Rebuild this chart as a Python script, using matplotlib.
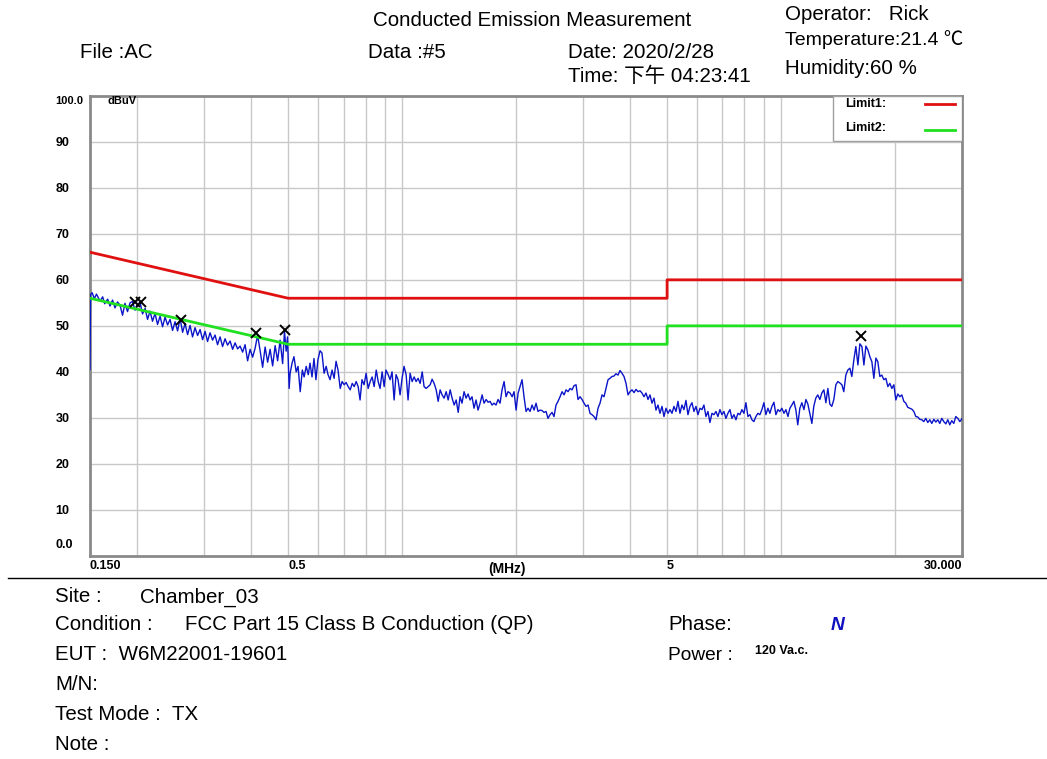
import matplotlib
matplotlib.use('Agg')
import matplotlib.pyplot as plt
from matplotlib.lines import Line2D

plt.rcParams['font.family'] = ['Liberation Sans', 'Noto Sans CJK SC', 'DejaVu Sans']

# --- datos de la medicion (MHz, dBuV) ---
freq = [
    0.150, 0.1505, 0.152, 0.154, 0.156,
    0.1594, 0.162, 0.164, 0.167,
    0.1694, 0.172, 0.1746, 0.1773,
    0.180, 0.1828, 0.1855, 0.1884,
    0.1913, 0.1942, 0.1972, 0.2002,
    0.2033, 0.2064, 0.2096, 0.2128,
    0.216, 0.2193, 0.2227, 0.2261,
    0.2296, 0.2331, 0.2367, 0.2403,
    0.244, 0.2477, 0.2515, 0.2554,
    0.2593, 0.2633, 0.2673, 0.2714,
    0.2755, 0.2797, 0.284, 0.2884,
    0.2928, 0.2973, 0.3018, 0.3064,
    0.3111, 0.3159, 0.3207, 0.3256,
    0.3306, 0.3357, 0.3408, 0.346,
    0.3514, 0.3568, 0.3622, 0.3678,
    0.3734, 0.3791, 0.3849, 0.3908,
    0.3968, 0.4029, 0.409, 0.4153,
    0.4217, 0.4282, 0.4347, 0.4414,
    0.4481, 0.455, 0.462, 0.469,
    0.4762, 0.4835, 0.489, 0.494, 0.498, 0.503,
    0.506, 0.512, 0.518, 0.525, 0.531,
    0.538, 0.545, 0.551, 0.558, 0.565,
    0.571, 0.578, 0.585, 0.592, 0.599,
    0.607, 0.614, 0.622, 0.630, 0.637,
    0.645, 0.653, 0.661, 0.669, 0.677,
    0.686, 0.694, 0.703, 0.711, 0.720,
    0.729, 0.738, 0.747, 0.756, 0.765,
    0.774, 0.783, 0.793, 0.803, 0.813,
    0.823, 0.833, 0.843, 0.854, 0.864,
    0.874, 0.885, 0.896, 0.906, 0.918,
    0.929, 0.940, 0.952, 0.963, 0.975,
    0.987, 0.999, 1.011, 1.024, 1.036,
    1.049, 1.062, 1.075, 1.088, 1.101,
    1.115, 1.129, 1.142, 1.156, 1.171,
    1.185, 1.199, 1.214, 1.229, 1.244,
    1.259, 1.274, 1.290, 1.306, 1.322,
    1.338, 1.354, 1.371, 1.388, 1.405,
    1.421, 1.438, 1.456, 1.474, 1.492,
    1.510, 1.528, 1.547, 1.566, 1.585,
    1.605, 1.625, 1.644, 1.665, 1.685,
    1.705, 1.726, 1.747, 1.768, 1.790,
    1.812, 1.834, 1.857, 1.879, 1.902,
    1.926, 1.950, 1.973, 1.997, 2.022,
    2.046, 2.071, 2.096, 2.122, 2.148,
    2.174, 2.201, 2.228, 2.255, 2.282,
    2.310, 2.338, 2.367, 2.396, 2.425,
    2.455, 2.485, 2.515, 2.546, 2.577,
    2.609, 2.641, 2.673, 2.706, 2.739,
    2.772, 2.806, 2.840, 2.875, 2.910,
    2.946, 2.982, 3.018, 3.055, 3.093,
    3.130, 3.168, 3.207, 3.246, 3.286,
    3.326, 3.367, 3.408, 3.449, 3.492,
    3.534, 3.577, 3.621, 3.665, 3.710,
    3.756, 3.802, 3.848, 3.895, 3.943,
    3.991, 4.040, 4.089, 4.139, 4.190,
    4.241, 4.293, 4.345, 4.398, 4.452,
    4.506, 4.561, 4.617, 4.673, 4.730,
    4.788, 4.847, 4.906, 4.966, 5.026,
    5.088, 5.150, 5.213, 5.277, 5.341,
    5.406, 5.472, 5.539, 5.607, 5.675,
    5.745, 5.815, 5.886, 5.958, 6.031,
    6.104, 6.179, 6.254, 6.331, 6.408,
    6.486, 6.566, 6.646, 6.727, 6.809,
    6.892, 6.976, 7.062, 7.148, 7.235,
    7.324, 7.413, 7.504, 7.596, 7.689,
    7.782, 7.877, 7.974, 8.071, 8.170,
    8.269, 8.370, 8.472, 8.576, 8.681,
    8.787, 8.894, 9.003, 9.113, 9.225,
    9.337, 9.451, 9.567, 9.684, 9.802,
    9.921, 10.04, 10.17, 10.29, 10.42,
    10.54, 10.67, 10.80, 10.93, 11.06,
    11.20, 11.34, 11.48, 11.62, 11.76,
    11.90, 12.05, 12.19, 12.34, 12.49,
    12.65, 12.80, 12.96, 13.12, 13.28,
    13.44, 13.60, 13.77, 13.94, 14.11,
    14.28, 14.46, 14.63, 14.81, 14.99,
    15.18, 15.36, 15.55, 15.74, 15.94,
    16.13, 16.33, 16.53, 16.73, 16.93,
    17.14, 17.35, 17.56, 17.78, 17.99,
    18.21, 18.43, 18.66, 18.89, 19.12,
    19.35, 19.59, 19.83, 20.07, 20.31,
    20.56, 20.81, 21.07, 21.32, 21.58,
    21.85, 22.12, 22.39, 22.66, 22.94,
    23.21, 23.50, 23.78, 24.07, 24.37,
    24.67, 24.97, 25.28, 25.59, 25.90,
    26.21, 26.53, 26.86, 27.19, 27.52,
    27.85, 28.19, 28.54, 28.89, 29.24,
    29.60, 30.00,
]

nivel = [
    40.5, 56.8, 57.2, 55.9, 56.9,
    55.4, 56.3, 54.8, 55.8,
    54.3, 55.6, 53.9, 55.2,
    54.5, 52.3, 54.9, 53.1,
    55.0, 55.3, 53.4, 54.6,
    55.1, 52.6, 53.8, 51.4,
    53.2, 51.0, 52.7, 50.3,
    52.1, 49.8, 51.9, 50.2,
    51.4, 49.0, 50.9, 48.9,
    51.6, 48.6, 50.5, 48.1,
    50.1, 47.6, 49.6, 47.9,
    49.2, 47.0, 48.8, 46.6,
    48.5, 46.9, 48.0, 45.9,
    47.6, 45.5, 47.2, 45.8,
    46.7, 44.9, 46.3, 45.0,
    45.6, 44.3, 45.9, 42.4,
    44.9, 43.2, 45.1, 48.0,
    44.6, 41.0, 45.4, 42.1,
    44.9, 41.3, 45.7, 42.4,
    46.9, 41.8, 48.8, 44.5, 47.6, 36.4,
    39.7, 41.9, 43.3, 40.0, 41.2,
    35.7, 40.4, 38.9, 41.2, 39.4,
    41.9, 38.9, 42.9, 38.3, 42.6,
    44.6, 44.1, 39.7, 41.2, 39.4,
    38.3, 40.4, 38.6, 42.3, 40.4,
    36.4, 37.9, 37.2, 37.7, 36.8,
    36.1, 37.5, 36.8, 37.9, 36.8,
    33.9, 38.3, 37.2, 39.7, 36.4,
    37.9, 38.9, 36.8, 40.4, 37.9,
    36.4, 40.0, 36.8, 40.4, 39.4,
    38.3, 40.0, 33.9, 39.4, 38.3,
    35.0, 38.6, 41.2, 39.4, 33.9,
    39.7, 37.9, 38.9, 37.9, 38.6,
    37.5, 40.0, 36.8, 36.4, 36.8,
    37.2, 38.4, 37.5, 36.1, 33.6,
    36.1, 35.0, 34.3, 35.7, 33.9,
    36.1, 34.3, 32.8, 33.9, 31.2,
    34.6, 33.2, 35.7, 34.3, 35.2,
    33.9, 34.6, 32.1, 33.9, 31.7,
    33.2, 35.0, 33.2, 34.0, 33.4,
    33.6, 32.8, 33.2, 32.8, 34.0,
    33.2, 36.1, 37.9, 34.6, 35.7,
    35.4, 34.6, 35.7, 31.7, 35.4,
    36.8, 38.3, 34.6, 31.4, 32.1,
    31.4, 32.8, 31.7, 33.2, 31.4,
    31.7, 31.6, 31.2, 31.4, 29.9,
    30.7, 31.2, 30.3, 32.8, 33.6,
    34.6, 35.7, 35.0, 36.1, 35.7,
    36.4, 36.1, 37.0, 37.2, 34.0,
    34.6, 34.0, 33.2, 32.5, 32.8,
    31.0, 30.7, 30.3, 29.6, 32.1,
    33.2, 35.0, 34.6, 36.4, 38.3,
    38.6, 39.0, 39.1, 39.6, 39.3,
    40.3, 39.7, 39.0, 37.5, 35.0,
    35.7, 36.1, 35.5, 36.2, 35.7,
    35.9, 35.4, 34.6, 35.4, 34.0,
    35.0, 33.2, 34.3, 31.7, 32.8,
    31.0, 32.5, 30.3, 32.1, 31.0,
    31.8, 31.0, 32.5, 31.4, 33.6,
    31.0, 32.8, 31.8, 33.8, 30.7,
    32.5, 33.3, 31.4, 32.5, 30.7,
    32.1, 31.8, 32.8, 30.3, 31.4,
    29.0, 31.0, 30.7, 31.4, 30.3,
    31.8, 30.7, 31.4, 29.9, 31.0,
    31.8, 29.9, 30.7, 29.6, 31.0,
    30.7, 31.8, 31.0, 33.3, 30.3,
    30.7, 29.6, 29.2, 30.3, 31.0,
    30.7, 31.8, 33.3, 30.7, 32.1,
    31.0, 32.5, 33.4, 30.7, 31.8,
    31.4, 32.1, 31.0, 31.8, 30.3,
    32.1, 32.8, 33.6, 31.8, 28.5,
    32.1, 33.3, 31.8, 34.0, 33.0,
    31.0, 28.8, 32.5, 34.3, 35.0,
    34.0, 35.4, 36.1, 33.3, 36.4,
    33.0, 32.5, 34.0, 37.2, 37.9,
    37.6, 37.2, 35.7, 39.3, 40.4,
    40.8, 39.0, 42.6, 45.5, 41.5,
    46.1, 45.5, 41.5, 45.6, 44.8,
    43.3, 42.2, 38.6, 43.0, 42.2,
    39.0, 39.3, 38.3, 38.6, 36.8,
    37.5, 36.4, 37.2, 33.9, 35.2,
    34.6, 35.0, 33.6, 33.2, 32.3,
    32.1, 31.9, 31.4, 30.3, 30.2,
    29.7, 29.6, 29.2, 29.9, 29.0,
    29.6, 28.8, 29.7, 29.1, 29.6,
    28.8, 29.9, 29.2, 28.7, 29.6,
    28.5, 29.4, 28.8, 30.3, 29.9,
    29.2, 29.8,
]

# limites FCC Part 15 clase B (QP y AV)
lim_f = [0.15, 0.5, 5.0, 5.0, 30.0]
lim1 = [66, 56, 56, 60, 60]
lim2 = [56, 46, 46, 50, 50]

# picos marcados
pico_f = [0.197, 0.205, 0.261, 0.4115, 0.490, 16.2]
pico_v = [55.1, 55.1, 51.3, 48.4, 49.1, 47.7]

grid_f = [0.2, 0.3, 0.4, 0.5, 0.6, 0.7, 0.8, 0.9, 1, 2, 3, 4, 5, 6, 7, 8, 9, 10, 20]

# --- figura ---
fig = plt.figure(figsize=(10.47, 7.59), dpi=100)
W, H = 1047.0, 759.0
ax = fig.add_axes([90 / W, 1 - 556 / H, 872 / W, 460.3 / H])

ax.plot(freq, nivel, color='#0a14c8', lw=1.0, zorder=3)
ax.plot(lim_f, lim1, color='#e01010', lw=2, zorder=4)
ax.plot(lim_f, lim2, color='#20e020', lw=2, zorder=4)
ax.plot(pico_f, pico_v, 'x', color='black', ms=7, mew=1.4, zorder=5)

ax.set_xscale('log')
ax.set_xlim(0.15, 30)
ax.set_ylim(0, 100)

ax.set_xticks([0.15, 0.5, 5, 30])
ax.set_xticklabels(['0.150', '0.5', '5', '30.000'], fontsize=9, fontweight='bold')
ax.set_xticks(grid_f, minor=True)
ax.set_xticklabels([], minor=True)
for i, lab in enumerate(ax.get_xticklabels()):
    lab.set_ha('right' if i == 3 else 'left')
ax.tick_params(axis='x', which='both', length=0, pad=3)

ax.set_yticks(range(10, 100, 10))
ax.set_yticklabels([str(v) for v in range(10, 100, 10)], fontsize=9, fontweight='bold')
for lab in ax.get_yticklabels():
    lab.set_ha('left')
ax.tick_params(axis='y', length=0, pad=25)

ax.grid(True, which='both', color='#c8c8c8', lw=1)
ax.set_axisbelow(True)
for s in ax.spines.values():
    s.set_color('#8a8a8a')
    s.set_linewidth(2)

ax.text(-35 / 872, 11 / 460.3, '0.0', transform=ax.transAxes, fontsize=9,
        fontweight='bold', va='center', ha='left')
ax.text(-35 / 872, 1 - 5 / 460.3, '100.0', transform=ax.transAxes, fontsize=8,
        fontweight='bold', va='center', ha='left')
ax.text(17 / 872, 1 - 5 / 460.3, 'dBuV', transform=ax.transAxes, fontsize=8,
        fontweight='bold', va='center', ha='left')
ax.text(417 / 872, -13 / 460.3, '(MHz)', transform=ax.transAxes, fontsize=10,
        fontweight='bold', va='center', ha='center')

# leyenda
ax.add_patch(plt.Rectangle((743 / 872, 1 - 45 / 460.3), 129 / 872, 45 / 460.3,
                           transform=ax.transAxes, facecolor='white',
                           edgecolor='#a0a0a0', lw=1, zorder=6))
ax.text(755 / 872, 1 - 8 / 460.3, 'Limit1:', transform=ax.transAxes,
        fontsize=9, fontweight='bold', va='center', zorder=7)
ax.text(755 / 872, 1 - 32 / 460.3, 'Limit2:', transform=ax.transAxes,
        fontsize=9, fontweight='bold', va='center', zorder=7)
ax.add_line(Line2D([835 / 872, 865 / 872], [1 - 8 / 460.3] * 2, transform=ax.transAxes,
                   color='#e01010', lw=2, zorder=7))
ax.add_line(Line2D([835 / 872, 865 / 872], [1 - 34 / 460.3] * 2, transform=ax.transAxes,
                   color='#20e020', lw=2, zorder=7))

# --- cabecera ---
FS = 14.8


def txt(x, y, s, **kw):
    fig.text(x / W, 1 - y / H, s, va='center', ha='left', **kw)


txt(373, 20, 'Conducted Emission Measurement', fontsize=FS)
txt(80, 53, 'File :AC', fontsize=FS)
txt(368, 53, 'Data :#5', fontsize=FS)
txt(568, 53, 'Date: 2020/2/28', fontsize=FS)
txt(568, 76, 'Time: 下午 04:23:41', fontsize=FS)
txt(785, 15, 'Operator:   Rick', fontsize=FS)
txt(785, 40, 'Temperature:21.4 ℃', fontsize=FS - 0.8)
txt(785, 68, 'Humidity:60 %', fontsize=FS)

# linea separadora
fig.add_artist(Line2D([8 / W, 1.0], [1 - 578 / H] * 2, color='black', lw=1))

# --- pie ---
txt(55, 597, 'Site :', fontsize=FS)
txt(140, 597, 'Chamber_03', fontsize=FS)
txt(55, 625, 'Condition :', fontsize=FS)
txt(185, 625, 'FCC Part 15 Class B Conduction (QP)', fontsize=FS)
txt(55, 655, 'EUT :  W6M22001-19601', fontsize=FS)
txt(55, 685, 'M/N:', fontsize=FS)
txt(55, 715, 'Test Mode :  TX', fontsize=FS)
txt(55, 745, 'Note :', fontsize=FS)
txt(668, 625, 'Phase:', fontsize=FS)
txt(831, 625, 'N', fontsize=FS - 1, color='#1010c0', style='italic', fontweight='bold')
txt(668, 656, 'Power :', fontsize=FS - 1)
txt(755, 651, '120 Va.c.', fontsize=9, fontweight='bold')

fig.savefig('out.png', dpi=100)
